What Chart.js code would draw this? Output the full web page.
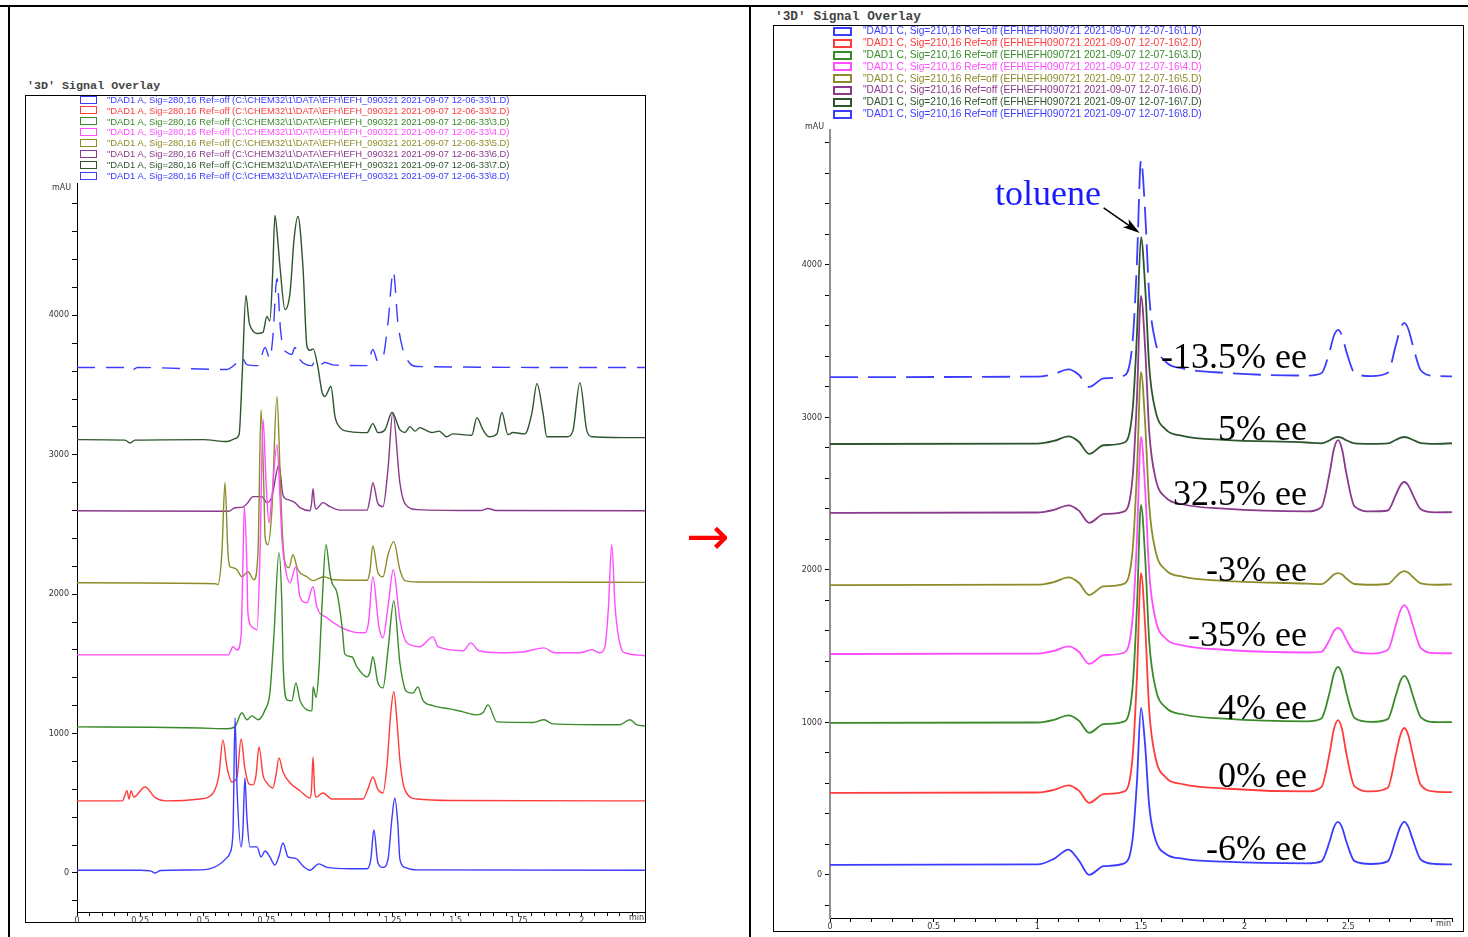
<!DOCTYPE html>
<html>
<head>
<meta charset="utf-8">
<script src="https://cdn.jsdelivr.net/npm/chart.js@4.4.0/dist/chart.umd.min.js"></script>
<style>
  body { margin: 0; background: #fff; width: 1468px; height: 937px; overflow: hidden; position: relative; }
  .line { position: absolute; background: #000; }
  .frame { position: absolute; border: 1px solid #000; }
  .frame canvas { position: absolute; left: 0; top: 0; }
  .title { position: absolute; font-family: 'Liberation Mono', monospace; font-weight: bold; color: #444; white-space: pre; }
  .lg { position: absolute; white-space: nowrap; font-family: 'Liberation Sans', Arial, sans-serif; }
  .note { position: absolute; font: 36px 'Liberation Serif', 'Times New Roman', serif; line-height: 36px; white-space: nowrap; color: #000; }
</style>
</head>
<body>
<div class="line" style="left:0;top:5px;width:1468px;height:2px"></div>
<div class="line" style="left:8px;top:5px;width:2px;height:932px"></div>
<div class="line" style="left:749px;top:5px;width:2px;height:932px"></div>

<div class="title" style="left:27px;top:79px;font-size:11.7px">'3D' Signal Overlay</div>
<div class="title" style="left:775px;top:9px;font-size:12.8px">'3D' Signal Overlay</div>

<div class="frame" style="left:25px;top:95px;width:619px;height:826px">
  <canvas id="chartL" width="619" height="826"></canvas>
</div>
<div class="frame" style="left:773px;top:25px;width:689px;height:905px">
  <canvas id="chartR" width="689" height="905"></canvas>
</div>
<div id="legends"></div>

<div class="note" style="left:686px;top:510px;font:52px 'DejaVu Sans';line-height:52px;color:#ff0000">→</div>
<div class="note" style="left:995px;top:175px;color:#1a1aff">toluene</div>
<div id="eeLabels"></div>

<script>
// ---- left panel: Sig=280 overlay, [time (min), mAU] per run ----
const l1 = [[0,20],[0.25,20],[0.29,15],[0.31,0],[0.33,18],[0.49,22],[0.554,50],[0.594,110],[0.606,143],[0.618,300],[0.626,1113],[0.634,600],[0.65,187],[0.657,300],[0.665,682],[0.673,400],[0.685,187],[0.713,187],[0.729,115],[0.745,158],[0.764,115],[0.784,57],[0.80,120],[0.816,215],[0.836,115],[0.855,108],[0.871,100],[0.895,50],[0.923,20],[0.958,65],[0.99,40],[1.08,30],[1.149,30],[1.164,100],[1.176,309],[1.192,72],[1.212,40],[1.232,100],[1.248,400],[1.259,538],[1.271,350],[1.279,100],[1.299,40],[1.35,22],[2.25,20]];
const l2 = [[0,517],[0.18,517],[0.198,590],[0.206,530],[0.214,590],[0.225,545],[0.269,617],[0.31,540],[0.35,517],[0.487,531],[0.539,574],[0.562,700],[0.578,955],[0.594,760],[0.614,653],[0.634,690],[0.65,962],[0.665,750],[0.681,639],[0.697,632],[0.709,700],[0.721,905],[0.737,700],[0.752,646],[0.776,610],[0.788,700],[0.80,826],[0.816,725],[0.844,646],[0.883,590],[0.923,538],[0.929,600],[0.935,833],[0.941,600],[0.947,545],[0.974,574],[1.01,531],[1.133,531],[1.152,600],[1.172,689],[1.192,600],[1.212,574],[1.228,775],[1.243,1150],[1.255,1300],[1.267,1100],[1.279,811],[1.299,596],[1.347,531],[1.5,520],[2.25,517]];
const l3 = [[0,1048],[0.3,1045],[0.49,1040],[0.594,1035],[0.626,1050],[0.653,1149],[0.673,1099],[0.693,1127],[0.717,1099],[0.745,1170],[0.764,1292],[0.78,1700],[0.80,2298],[0.812,1900],[0.816,1529],[0.832,1242],[0.851,1235],[0.867,1364],[0.883,1240],[0.911,1170],[0.931,1163],[0.935,1335],[0.947,1260],[0.958,1450],[0.97,1900],[0.986,2355],[1.002,2150],[1.01,2082],[1.03,2010],[1.05,1766],[1.061,1570],[1.089,1551],[1.109,1479],[1.149,1407],[1.16,1440],[1.172,1551],[1.192,1364],[1.212,1328],[1.232,1600],[1.255,1953],[1.279,1508],[1.299,1320],[1.307,1300],[1.331,1290],[1.35,1335],[1.37,1240],[1.41,1200],[1.477,1177],[1.529,1156],[1.584,1134],[1.608,1150],[1.628,1206],[1.663,1084],[1.806,1080],[1.85,1099],[1.885,1070],[2.15,1063],[2.19,1099],[2.218,1063],[2.25,1055]];
const l4 = [[0,1565],[0.6,1565],[0.618,1623],[0.634,1600],[0.65,1700],[0.657,2200],[0.663,2628],[0.673,2200],[0.677,1867],[0.693,1766],[0.713,1745],[0.725,2300],[0.737,3253],[0.749,2800],[0.76,2513],[0.772,2700],[0.792,3073],[0.804,2700],[0.812,2391],[0.824,2197],[0.844,2082],[0.867,2197],[0.883,1982],[0.911,1939],[0.935,2053],[0.95,1910],[0.99,1831],[1.042,1766],[1.093,1730],[1.141,1723],[1.155,1800],[1.172,2125],[1.196,1766],[1.212,1687],[1.232,1910],[1.253,2175],[1.279,1817],[1.307,1651],[1.358,1623],[1.41,1694],[1.43,1623],[1.529,1594],[1.56,1651],[1.592,1594],[1.675,1580],[1.766,1585],[1.85,1615],[1.893,1580],[1.992,1580],[2.04,1601],[2.071,1580],[2.091,1620],[2.105,1900],[2.118,2355],[2.132,1900],[2.158,1600],[2.17,1580],[2.25,1558]];
const l5 = [[0,2082],[0.55,2075],[0.558,2068],[0.574,2300],[0.586,2800],[0.598,2300],[0.606,2197],[0.618,2190],[0.634,2175],[0.653,2125],[0.677,2161],[0.701,2104],[0.717,2300],[0.729,3324],[0.741,2700],[0.745,2413],[0.756,2355],[0.772,2600],[0.792,3418],[0.804,2900],[0.812,2500],[0.824,2226],[0.84,2190],[0.855,2283],[0.875,2175],[0.911,2125],[0.935,2097],[0.978,2125],[1.014,2104],[1.149,2100],[1.16,2160],[1.172,2348],[1.192,2154],[1.212,2125],[1.232,2283],[1.255,2377],[1.279,2175],[1.299,2097],[1.35,2088],[2.25,2085]];
const l6 = [[0,2599],[0.6,2595],[0.626,2620],[0.657,2625],[0.677,2657],[0.697,2700],[0.717,2700],[0.733,2700],[0.752,2657],[0.772,2700],[0.80,2929],[0.816,2710],[0.836,2678],[0.863,2657],[0.883,2621],[0.923,2599],[0.929,2650],[0.935,2757],[0.941,2650],[0.947,2610],[0.974,2657],[1.002,2628],[1.042,2603],[1.149,2603],[1.16,2680],[1.172,2800],[1.192,2650],[1.212,2628],[1.232,2900],[1.251,3303],[1.279,2800],[1.299,2650],[1.347,2607],[1.6,2600],[1.628,2615],[1.66,2600],[2.25,2599]];
const l7 = [[0,3109],[0.19,3105],[0.21,3085],[0.23,3105],[0.5,3109],[0.594,3095],[0.626,3116],[0.642,3145],[0.655,3600],[0.669,4143],[0.682,3950],[0.693,3899],[0.713,3870],[0.737,3880],[0.752,3992],[0.764,3960],[0.775,4300],[0.784,4717],[0.797,4500],[0.804,4351],[0.824,4042],[0.844,4164],[0.86,4550],[0.875,4710],[0.895,4351],[0.911,3777],[0.923,3749],[0.935,3760],[0.954,3633],[0.97,3454],[0.982,3418],[1.006,3490],[1.022,3274],[1.042,3195],[1.081,3166],[1.149,3159],[1.172,3224],[1.192,3159],[1.22,3180],[1.248,3303],[1.279,3181],[1.299,3160],[1.319,3202],[1.339,3170],[1.358,3195],[1.378,3180],[1.406,3160],[1.434,3170],[1.465,3130],[1.489,3150],[1.564,3140],[1.584,3267],[1.608,3180],[1.632,3130],[1.663,3150],[1.683,3303],[1.707,3145],[1.727,3160],[1.774,3150],[1.802,3300],[1.822,3511],[1.846,3300],[1.861,3130],[1.941,3130],[1.964,3170],[1.992,3518],[2.02,3170],[2.04,3130],[2.25,3123]];
const l8 = [[0,3626],[0.2,3626],[0.214,3604],[0.24,3626],[0.594,3612],[0.634,3662],[0.653,3698],[0.673,3647],[0.717,3640],[0.745,3770],[0.764,3690],[0.776,3850],[0.792,4265],[0.806,3900],[0.816,3777],[0.832,3734],[0.851,3720],[0.863,3770],[0.883,3683],[0.911,3645],[0.931,3640],[0.943,3677],[0.962,3645],[0.982,3662],[1.014,3645],[1.149,3640],[1.172,3755],[1.192,3670],[1.212,3700],[1.232,3950],[1.253,4315],[1.271,3950],[1.291,3755],[1.319,3655],[1.347,3633],[2.25,3626]];

// ---- right panel: Sig=210 overlay, shared time grid (min) ----
const timesR = [0, 1.00, 1.08, 1.15, 1.20, 1.25, 1.32, 1.42, 1.46, 1.48, 1.50, 1.52, 1.54, 1.57, 1.62, 1.70, 1.90, 2.30, 2.37, 2.41, 2.43, 2.45, 2.47, 2.49, 2.53, 2.61, 2.69, 2.73, 2.75, 2.77, 2.79, 2.81, 2.85, 2.92, 3.00];
const r1 = [66, 69, 106, 166, 96, 1, 58, 76, 241, 601, 1095, 848, 447, 231, 138, 107, 87, 76, 89, 221, 311, 348, 311, 221, 91, 72, 89, 235, 314, 348, 314, 235, 100, 72, 70];
const r2 = [538, 541, 558, 588, 553, 473, 530, 548, 783, 1288, 1980, 1634, 1072, 769, 639, 596, 567, 548, 576, 801, 954, 1016, 954, 801, 581, 548, 572, 794, 913, 964, 913, 794, 589, 547, 543];
const r3 = [997, 1000, 1017, 1047, 1012, 932, 989, 1007, 1240, 1740, 2426, 2083, 1526, 1226, 1097, 1054, 1025, 1007, 1026, 1199, 1316, 1364, 1316, 1199, 1030, 1004, 1022, 1182, 1268, 1305, 1268, 1182, 1034, 1003, 1002];
const r4 = [1449, 1452, 1469, 1499, 1464, 1384, 1441, 1459, 1691, 2189, 2872, 2530, 1976, 1677, 1549, 1506, 1477, 1459, 1463, 1543, 1598, 1620, 1598, 1543, 1464, 1452, 1475, 1642, 1731, 1770, 1731, 1642, 1488, 1455, 1454];
const r5 = [1901, 1904, 1921, 1951, 1916, 1836, 1893, 1911, 2138, 2627, 3298, 2963, 2418, 2125, 1999, 1957, 1929, 1911, 1907, 1944, 1970, 1980, 1970, 1944, 1908, 1903, 1908, 1956, 1982, 1993, 1982, 1956, 1912, 1903, 1906];
const r6 = [2374, 2377, 2394, 2424, 2389, 2309, 2366, 2384, 2616, 3114, 3797, 3455, 2901, 2602, 2474, 2431, 2402, 2384, 2412, 2637, 2790, 2852, 2790, 2637, 2417, 2384, 2390, 2496, 2553, 2577, 2553, 2496, 2398, 2378, 2379];
const r7 = [2826, 2829, 2846, 2876, 2841, 2761, 2818, 2836, 3057, 3532, 4183, 3857, 3328, 3043, 2921, 2880, 2853, 2836, 2830, 2851, 2866, 2872, 2866, 2851, 2830, 2827, 2830, 2854, 2866, 2872, 2866, 2854, 2832, 2827, 2831];
const r8 = [3265, 3268, 3285, 3315, 3280, 3200, 3257, 3275, 3507, 4005, 4688, 4346, 3792, 3493, 3365, 3322, 3293, 3275, 3290, 3435, 3534, 3574, 3534, 3435, 3293, 3271, 3293, 3478, 3577, 3620, 3577, 3478, 3308, 3272, 3270];

const eeLabels = ['-13.5% ee', '5% ee', '32.5% ee', '-3% ee', '-35% ee', '4% ee', '0% ee', '-6% ee'];
const eeBaselines = [368, 440, 505, 581, 646, 719, 787, 860];

const legendL = [
  '"DAD1 A, Sig=280,16 Ref=off (C:\\CHEM32\\1\\DATA\\EFH\\EFH_090321 2021-09-07 12-06-33\\1.D)',
  '"DAD1 A, Sig=280,16 Ref=off (C:\\CHEM32\\1\\DATA\\EFH\\EFH_090321 2021-09-07 12-06-33\\2.D)',
  '"DAD1 A, Sig=280,16 Ref=off (C:\\CHEM32\\1\\DATA\\EFH\\EFH_090321 2021-09-07 12-06-33\\3.D)',
  '"DAD1 A, Sig=280,16 Ref=off (C:\\CHEM32\\1\\DATA\\EFH\\EFH_090321 2021-09-07 12-06-33\\4.D)',
  '"DAD1 A, Sig=280,16 Ref=off (C:\\CHEM32\\1\\DATA\\EFH\\EFH_090321 2021-09-07 12-06-33\\5.D)',
  '"DAD1 A, Sig=280,16 Ref=off (C:\\CHEM32\\1\\DATA\\EFH\\EFH_090321 2021-09-07 12-06-33\\6.D)',
  '"DAD1 A, Sig=280,16 Ref=off (C:\\CHEM32\\1\\DATA\\EFH\\EFH_090321 2021-09-07 12-06-33\\7.D)',
  '"DAD1 A, Sig=280,16 Ref=off (C:\\CHEM32\\1\\DATA\\EFH\\EFH_090321 2021-09-07 12-06-33\\8.D)'
];
const legendR = [
  '"DAD1 C, Sig=210,16 Ref=off (EFH\\EFH090721 2021-09-07 12-07-16\\1.D)',
  '"DAD1 C, Sig=210,16 Ref=off (EFH\\EFH090721 2021-09-07 12-07-16\\2.D)',
  '"DAD1 C, Sig=210,16 Ref=off (EFH\\EFH090721 2021-09-07 12-07-16\\3.D)',
  '"DAD1 C, Sig=210,16 Ref=off (EFH\\EFH090721 2021-09-07 12-07-16\\4.D)',
  '"DAD1 C, Sig=210,16 Ref=off (EFH\\EFH090721 2021-09-07 12-07-16\\5.D)',
  '"DAD1 C, Sig=210,16 Ref=off (EFH\\EFH090721 2021-09-07 12-07-16\\6.D)',
  '"DAD1 C, Sig=210,16 Ref=off (EFH\\EFH090721 2021-09-07 12-07-16\\7.D)',
  '"DAD1 C, Sig=210,16 Ref=off (EFH\\EFH090721 2021-09-07 12-07-16\\8.D)'
];

const colors = ['#3c3cff', '#ff3c3c', '#3a8a2a', '#ff4dff', '#8c8c2a', '#8a3a8a', '#2e552e', '#3c3cff'];

// legends (html)
const lgBox = document.getElementById('legends');
function addLegend(list, o) {
  list.forEach((txt, i) => {
    const top = o.top + i * o.step;
    const b = document.createElement('div');
    b.style.cssText = `position:absolute;box-sizing:border-box;left:${o.boxX}px;top:${Math.round(top - o.boxH / 2)}px;` +
      `width:${o.boxW}px;height:${o.boxH}px;border:${o.bw}px solid ${colors[i]}`;
    lgBox.appendChild(b);
    const t = document.createElement('div');
    t.className = 'lg';
    t.textContent = txt;
    t.style.left = o.textX + 'px';
    t.style.top = (top - o.size * 0.6) + 'px';
    t.style.fontSize = o.size + 'px';
    t.style.lineHeight = (o.size * 1.2) + 'px';
    t.style.color = colors[i];
    lgBox.appendChild(t);
  });
}
addLegend(legendL, { top: 99.5, step: 10.86, boxX: 80, boxW: 17, boxH: 8, bw: 1.5, textX: 107, size: 9.4 });
addLegend(legendR, { top: 31.5, step: 11.8, boxX: 833, boxW: 19, boxH: 9, bw: 2, textX: 863, size: 10.2 });

// ee labels, right aligned against x = 1307
const eeBox = document.getElementById('eeLabels');
eeLabels.forEach((txt, i) => {
  const d = document.createElement('div');
  d.className = 'note';
  d.textContent = txt;
  d.style.right = (1468 - 1307) + 'px';
  d.style.top = (eeBaselines[i] - 30) + 'px';
  eeBox.appendChild(d);
});

const axisText = {
  id: 'axisText',
  afterDraw(chart, args, o) {
    const { ctx, chartArea: a } = chart;
    ctx.save();
    ctx.fillStyle = '#333';
    ctx.font = '8px "DejaVu Sans"';
    ctx.textAlign = 'right';
    ctx.textBaseline = 'middle';
    ctx.fillText('mAU', a.left - 6, a.top + o.mauDy);
    ctx.textBaseline = 'top';
    ctx.fillText('min', a.right - 1, a.bottom + o.minDy);
    if (o.arrow) {
      const x = chart.scales.x, y = chart.scales.y;
      const x0 = x.getPixelForValue(o.arrow[0]), y0 = y.getPixelForValue(o.arrow[1]);
      const x1 = x.getPixelForValue(o.arrow[2]), y1 = y.getPixelForValue(o.arrow[3]);
      const ang = Math.atan2(y1 - y0, x1 - x0), c = Math.cos(ang), s = Math.sin(ang);
      ctx.strokeStyle = '#000';
      ctx.lineWidth = 1.5;
      ctx.beginPath();
      ctx.moveTo(x0, y0);
      ctx.lineTo(x1 - 12 * c, y1 - 12 * s);
      ctx.stroke();
      ctx.fillStyle = '#000';
      ctx.beginPath();
      ctx.moveTo(x1, y1);
      ctx.lineTo(x1 - 17 * c + 5 * s, y1 - 17 * s - 5 * c);
      ctx.lineTo(x1 - 13 * c, y1 - 13 * s);
      ctx.lineTo(x1 - 17 * c - 5 * s, y1 - 17 * s + 5 * c);
      ctx.closePath();
      ctx.fill();
    }
    ctx.restore();
  }
};

const tickFont = { family: 'DejaVu Sans', size: 8 };

function build(id, sets, o) {
  return new Chart(document.getElementById(id), {
    type: 'line',
    data: {
      datasets: sets.map((d, i) => ({
        data: d,
        borderColor: colors[i],
        borderWidth: o.lw,
        borderDash: i === 7 ? o.dash : [],
        pointRadius: 0,
        fill: false,
        cubicInterpolationMode: 'monotone'
      }))
    },
    options: {
      responsive: false,
      animation: false,
      layout: { padding: { top: o.top, right: o.right, left: 0, bottom: 0 } },
      plugins: { legend: { display: false }, tooltip: { enabled: false }, axisText: o.extra },
      scales: {
        x: {
          type: 'linear', min: 0, max: o.xmax,
          border: { display: true, color: '#000', width: 1 },
          grid: { drawOnChartArea: false, drawTicks: true, tickLength: 4, color: '#000' },
          ticks: {
            autoSkip: false, maxRotation: 0, padding: 0, font: tickFont, color: '#333',
            callback: v => {
              const k = v / o.xlab;
              if (Math.abs(k - Math.round(k)) > 1e-6 || v > o.xmax - 1e-6) return '';
              return String(+v.toFixed(2));
            }
          },
          afterBuildTicks: s => {
            const t = [];
            for (let k = 0; k * o.xstep <= o.xmax + 1e-9; k++) t.push({ value: +(k * o.xstep).toFixed(3) });
            s.ticks = t;
          },
          afterFit: s => { s.height = o.xh; }
        },
        y: {
          min: o.ymin, max: o.ymax,
          border: { display: true, color: o.ycol, width: o.yw2 },
          grid: { drawOnChartArea: false, drawTicks: true, tickLength: 5, color: '#000' },
          ticks: {
            autoSkip: false, padding: 3, font: tickFont, color: '#333',
            callback: v => (Math.round(v) % 1000 === 0 ? String(Math.round(v)) : '')
          },
          afterBuildTicks: s => {
            const t = [];
            for (let v = Math.ceil(o.ymin / 200) * 200; v <= o.ymax; v += 200) t.push({ value: v });
            s.ticks = t;
          },
          afterFit: s => { s.width = o.yw; }
        }
      }
    },
    plugins: [axisText]
  });
}

const pairs = p => p.map(q => ({ x: q[0], y: q[1] }));
const onGrid = r => timesR.map((t, j) => ({ x: t, y: r[j] }));

build('chartL', [l1, l2, l3, l4, l5, l6, l7, l8].map(pairs), {
  xmax: 2.25, xstep: 0.05, xlab: 0.25, ymin: -280, ymax: 4950,
  top: 87, right: 0, yw: 51, xh: 10, lw: 1.4, dash: [18, 11],
  ycol: '#000', yw2: 1,
  extra: { mauDy: 5, minDy: 2 }
});

build('chartR', [r1, r2, r3, r4, r5, r6, r7, r8].map(onGrid), {
  xmax: 3.0, xstep: 0.1, xlab: 0.5, ymin: -282, ymax: 4885,
  top: 104, right: 11, yw: 56, xh: 13, lw: 1.8, dash: [28, 10],
  ycol: '#909090', yw2: 2,
  extra: { mauDy: -3, minDy: 2, arrow: [1.32, 4374, 1.494, 4210] }
});
</script>
</body>
</html>
